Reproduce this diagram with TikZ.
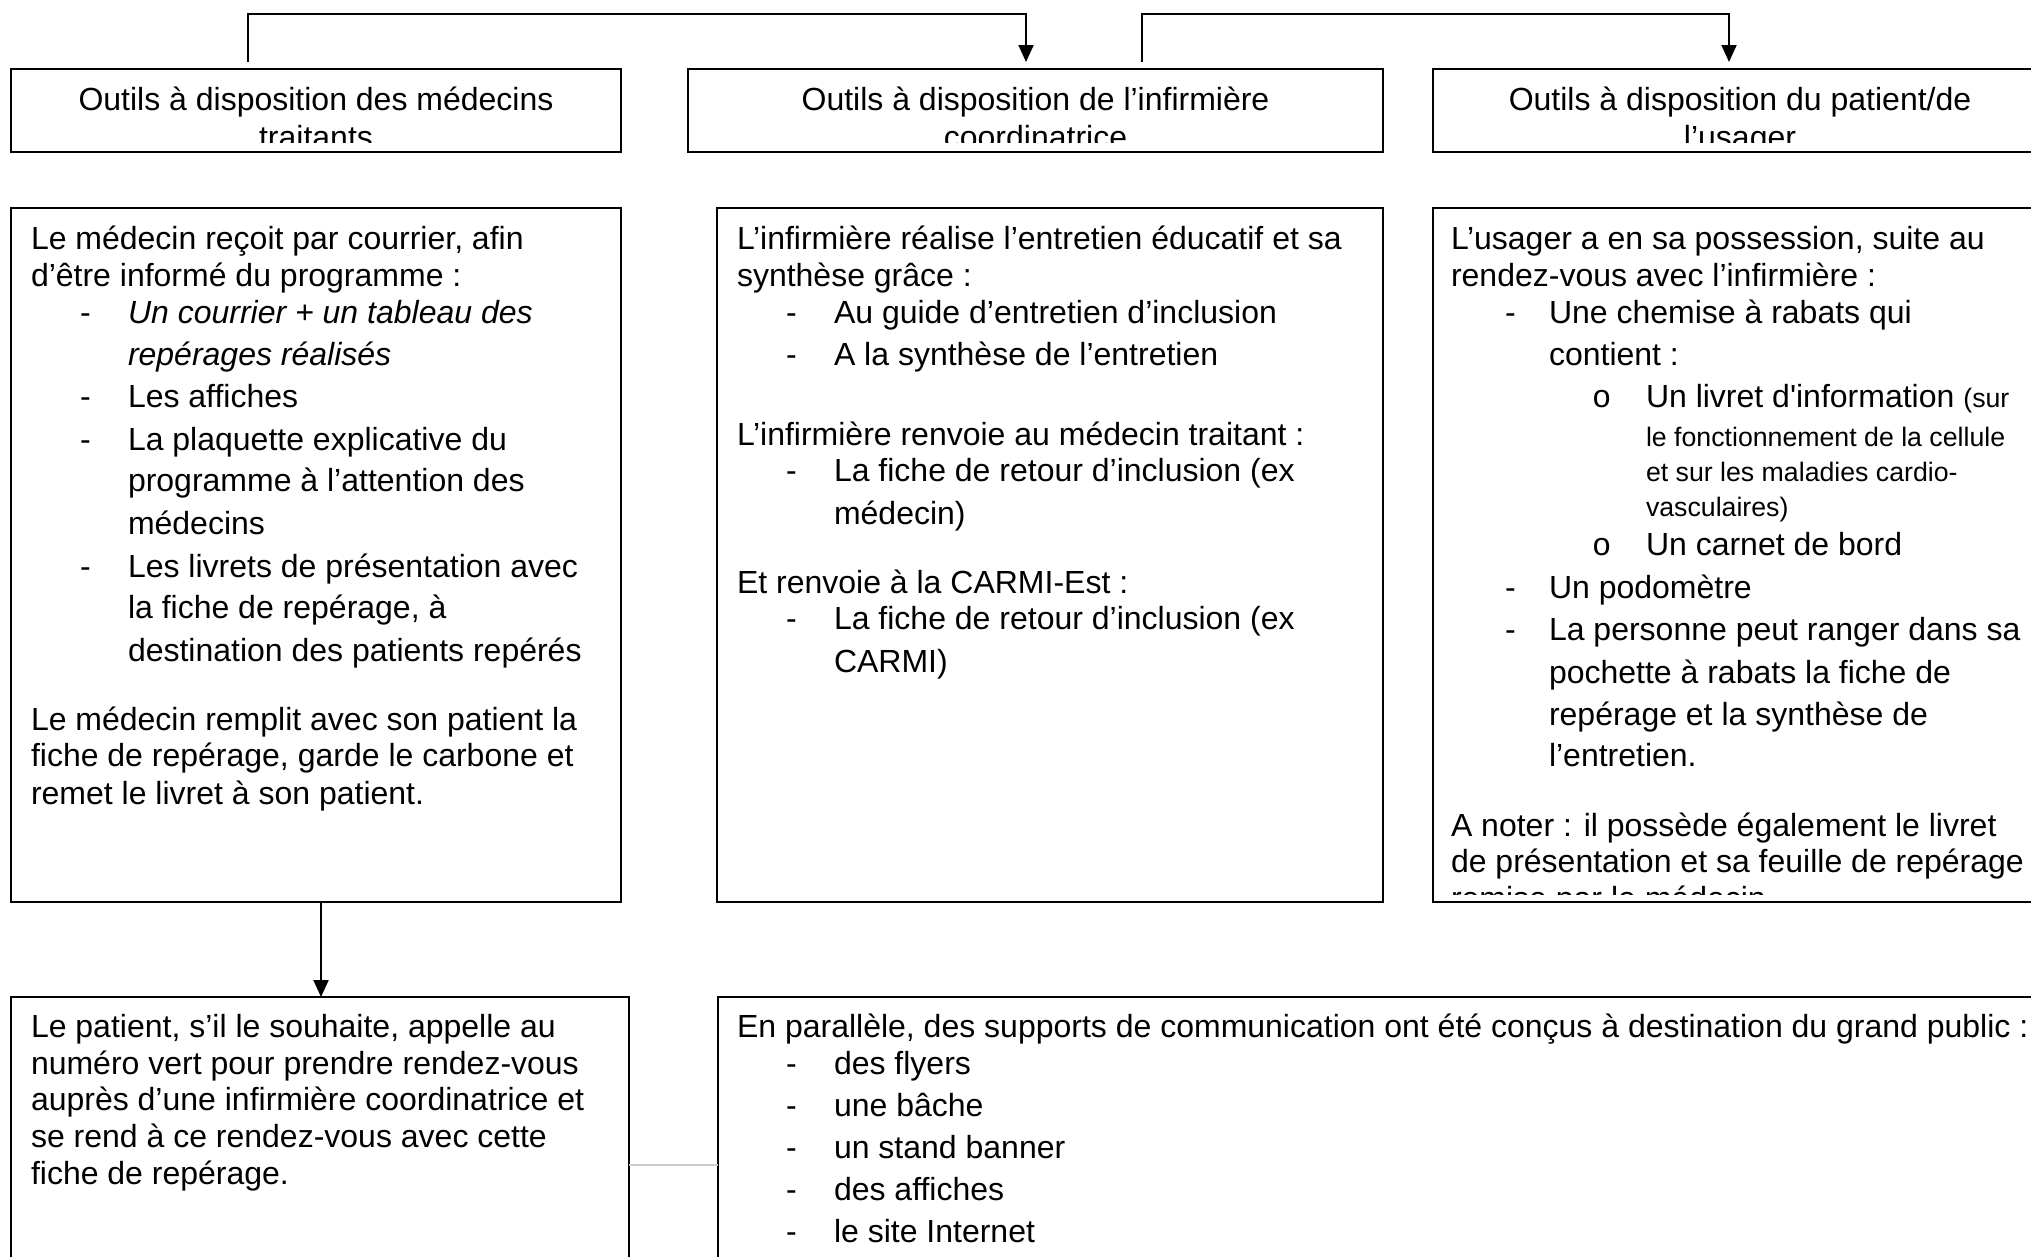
\documentclass[tikz,border=0pt]{standalone}
\usepackage{fontspec}
\setmainfont{Liberation Sans}
\setmonofont{Liberation Mono}
\usetikzlibrary{calc,arrows.meta}
\newcommand\Lnode[5][txt]{\node[#1] (#2) at (#3,#4) {#5};}
\begin{document}
\begin{tikzpicture}[x=1pt,y=-1pt,
  box/.style={draw=black, line width=2pt, rectangle, anchor=north west, inner sep=0pt, outer sep=0pt},
  txt/.style={anchor=base west, inner sep=0pt, outer sep=0pt, font=\fontsize{32}{37}\selectfont},
  ctxt/.style={anchor=base, inner sep=0pt, outer sep=0pt, font=\fontsize{32}{37}\selectfont},
  stxt/.style={anchor=base west, inner sep=0pt, outer sep=0pt, font=\fontsize{26.7}{31}\selectfont},
  otxt/.style={anchor=base west, inner sep=0pt, outer sep=0pt, font=\fontsize{32}{37}\selectfont\ttfamily},
  conn/.style={line width=2pt, draw=black},
  arr/.style={conn, -{Triangle[width=15pt,length=17pt]}},
  faint/.style={line width=1.5pt, draw=black!20}]
\clip (0,0) rectangle (2031,1256);
\fill[white] (0,0) rectangle (2031,1256);

% ---------- boxes ----------
\node[box, minimum width=610pt, minimum height=83pt] (h1) at (11,69) {};
\node[box, minimum width=695pt, minimum height=83pt] (h2) at (688,69) {};
\node[box, minimum width=614pt, minimum height=83pt] (h3) at (1433,69) {};
\node[box, minimum width=610pt, minimum height=694pt] (c1) at (11,208) {};
\node[box, minimum width=666pt, minimum height=694pt] (c2) at (717,208) {};
\node[box, minimum width=614pt, minimum height=694pt] (c3) at (1433,208) {};
\node[box, minimum width=618pt, minimum height=336pt] (b4) at (11,997) {};
\node[box, minimum width=1329pt, minimum height=336pt] (b5) at (718,997) {};

% ---------- connectors ----------
\draw[arr] ($(h1.north west)+(237,-7)$) -- ++(0,-48) -| ($(h2.north west)+(338,-7)$);
\draw[arr] ($(h2.north west)+(454,-7)$) -- ++(0,-48) -| ($(h3.north west)+(296,-7)$);
\draw[arr] ($(c1.south west)+(310,0)$) -- ($(b4.north west)+(310,0)$);
\draw[faint] (b4.east) -- (b5.west);

% ---------- header texts ----------
\begin{scope}
\clip (h1.north west) rectangle ([yshift=10pt]h1.south east);
\Lnode[ctxt]{h1a}{316}{110}{Outils à disposition des médecins}
\Lnode[ctxt]{h1b}{316}{148}{traitants}
\end{scope}
\begin{scope}
\clip (h2.north west) rectangle ([yshift=10pt]h2.south east);
\Lnode[ctxt]{h2a}{1035.5}{110}{Outils à disposition de l’infirmière}
\Lnode[ctxt]{h2b}{1035.5}{148}{coordinatrice}
\end{scope}
\begin{scope}
\clip (h3.north west) rectangle ([yshift=10pt]h3.south east);
\Lnode[ctxt]{h3a}{1740}{110}{Outils à disposition du patient/de}
\Lnode[ctxt]{h3b}{1740}{148}{l’usager}
\end{scope}

% ---------- box 1 ----------
\Lnode{a1}{31}{249}{Le médecin reçoit par courrier, afin}
\Lnode{a2}{31}{286}{d’être informé du programme :}
\Lnode{a3d}{80}{323}{-}
\Lnode{a3}{128}{323}{\itshape Un courrier + un tableau des}
\Lnode{a4}{128}{365}{\itshape repérages réalisés}
\Lnode{a5d}{80}{407}{-}
\Lnode{a5}{128}{407}{Les affiches}
\Lnode{a6d}{80}{450}{-}
\Lnode{a6}{128}{450}{La plaquette explicative du}
\Lnode{a7}{128}{491}{programme à l’attention des}
\Lnode{a8}{128}{534}{médecins}
\Lnode{a9d}{80}{577}{-}
\Lnode{a9}{128}{577}{Les livrets de présentation avec}
\Lnode{a10}{128}{618}{la fiche de repérage, à}
\Lnode{a11}{128}{661}{destination des patients repérés}
\Lnode{a12}{31}{730}{Le médecin remplit avec son patient la}
\Lnode{a13}{31}{766}{fiche de repérage, garde le carbone et}
\Lnode{a14}{31}{804}{remet le livret à son patient.}

% ---------- box 2 ----------
\Lnode{e1}{737}{249}{L’infirmière réalise l’entretien éducatif et sa}
\Lnode{e2}{737}{286}{synthèse grâce :}
\Lnode{e3d}{786}{323}{-}
\Lnode{e3}{834}{323}{Au guide d’entretien d’inclusion}
\Lnode{e4d}{786}{365}{-}
\Lnode{e4}{834}{365}{A la synthèse de l’entretien}
\Lnode{e5}{737}{445}{L’infirmière renvoie au médecin traitant :}
\Lnode{e6d}{786}{481}{-}
\Lnode{e6}{834}{481}{La fiche de retour d’inclusion (ex}
\Lnode{e7}{834}{524}{médecin)}
\Lnode{e8}{737}{593}{Et renvoie à la CARMI-Est :}
\Lnode{e9d}{786}{629}{-}
\Lnode{e9}{834}{629}{La fiche de retour d’inclusion (ex}
\Lnode{e10}{834}{672}{CARMI)}

% ---------- box 3 ----------
\begin{scope}
\clip (c3.north west) rectangle ([yshift=8pt]c3.south east);
\Lnode{g1}{1451}{249}{L’usager a en sa possession, suite au}
\Lnode{g2}{1451}{286}{rendez-vous avec l’infirmière :}
\Lnode{g3d}{1505}{323}{-}
\Lnode{g3}{1549}{323}{Une chemise à rabats qui}
\Lnode{g4}{1549}{365}{contient :}
\Lnode[otxt]{g5o}{1592}{407}{o}
\Lnode{g5}{1646}{407}{Un livret d\textquotesingle information {\fontsize{26.7}{31}\selectfont (sur}}
\Lnode[stxt]{g6}{1646}{446}{le fonctionnement de la cellule}
\Lnode[stxt]{g7}{1646}{481}{et sur les maladies cardio-}
\Lnode[stxt]{g8}{1646}{516}{vasculaires)}
\Lnode[otxt]{g9o}{1592}{555}{o}
\Lnode{g9}{1646}{555}{Un carnet de bord}
\Lnode{g10d}{1505}{598}{-}
\Lnode{g10}{1549}{598}{Un podomètre}
\Lnode{g11d}{1505}{640}{-}
\Lnode{g11}{1549}{640}{La personne peut ranger dans sa}
\Lnode{g12}{1549}{683}{pochette à rabats la fiche de}
\Lnode{g13}{1549}{725}{repérage et la synthèse de}
\Lnode{g14}{1549}{766}{l’entretien.}
\Lnode{g15}{1451}{836}{A noter : il possède également le livret}
\Lnode{g16}{1451}{872}{de présentation et sa feuille de repérage}
\Lnode{g17}{1451}{909}{remise par le médecin}
\end{scope}

% ---------- box 4 ----------
\Lnode{p1}{31}{1037}{Le patient, s’il le souhaite, appelle au}
\Lnode{p2}{31}{1074}{numéro vert pour prendre rendez-vous}
\Lnode{p3}{31}{1110}{auprès d’une infirmière coordinatrice et}
\Lnode{p4}{31}{1147}{se rend à ce rendez-vous avec cette}
\Lnode{p5}{31}{1184}{fiche de repérage.}

% ---------- box 5 ----------
\Lnode{q0}{737}{1037}{En parallèle, des supports de communication ont été conçus à destination du grand public :}
\Lnode{q1d}{786}{1074}{-}
\Lnode{q1}{834}{1074}{des flyers}
\Lnode{q2d}{786}{1116}{-}
\Lnode{q2}{834}{1116}{une bâche}
\Lnode{q3d}{786}{1158}{-}
\Lnode{q3}{834}{1158}{un stand banner}
\Lnode{q4d}{786}{1200}{-}
\Lnode{q4}{834}{1200}{des affiches}
\Lnode{q5d}{786}{1242}{-}
\Lnode{q5}{834}{1242}{le site Internet}
\end{tikzpicture}
\end{document}
